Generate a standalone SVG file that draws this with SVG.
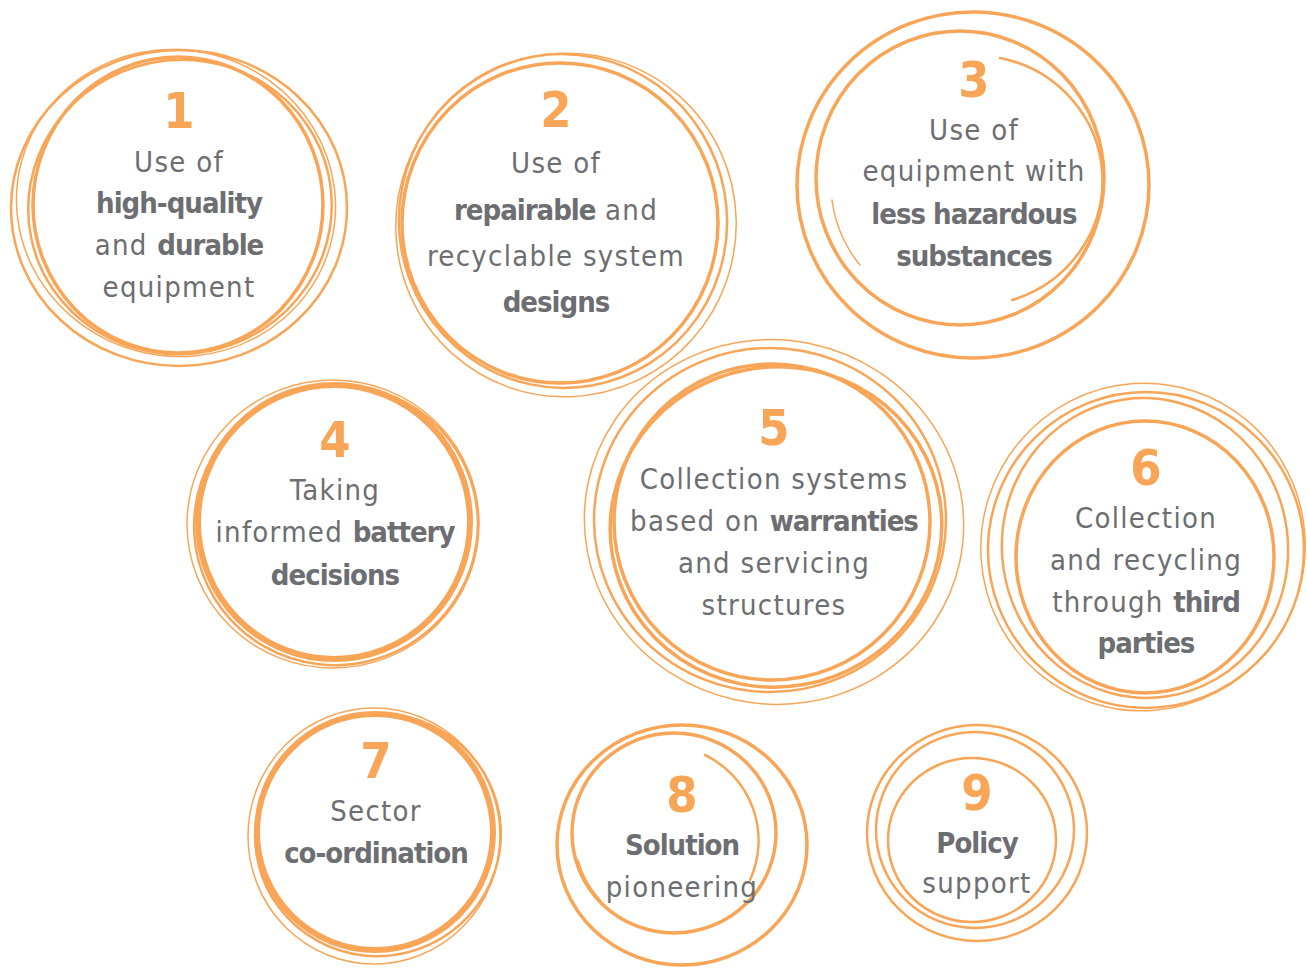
<svg xmlns="http://www.w3.org/2000/svg" width="1307" height="972" viewBox="0 0 1307 972">
<style>
.r{fill:none;stroke:#F8A557;stroke-linecap:round}
.w1{stroke-width:1.5}.w2{stroke-width:2.5}.w3{stroke-width:3.5}.w5{stroke-width:6}
text{font-family:"DejaVu Sans Condensed","DejaVu Sans",sans-serif;fill:#6D6E71;text-anchor:middle;font-size:29px;letter-spacing:1.3px}
.n{fill:#F8A557;font-size:50px;font-weight:bold;letter-spacing:0}
.b{font-weight:bold;letter-spacing:-1px}
</style>
<rect width="1307" height="972" fill="#fff"/>
<g id="node1">
<ellipse class="r w3" cx="178" cy="205" rx="145" ry="148"/>
<ellipse class="r w2" cx="180" cy="207" rx="152" ry="147" transform="rotate(-12 180 207)"/>
<ellipse class="r w2" cx="179" cy="208" rx="168" ry="158"/>
<ellipse class="r w1" cx="176" cy="203" rx="160" ry="153" transform="rotate(15 176 203)"/>
<text class="n" x="179" y="128">1</text>
<text x="179" y="172">Use of</text>
<text x="179" y="213" class="b">high-quality</text>
<text x="179" y="255">and <tspan class="b">durable</tspan></text>
<text x="179" y="297">equipment</text>
</g>
<g id="node2">
<ellipse class="r w3" cx="560" cy="223" rx="158" ry="160"/>
<ellipse class="r w2" cx="563" cy="221" rx="164" ry="167" transform="rotate(-10 563 221)"/>
<ellipse class="r w1" cx="566" cy="225" rx="170" ry="172" transform="rotate(20 566 225)"/>
<text class="n" x="556" y="127">2</text>
<text x="556" y="173">Use of</text>
<text x="556" y="220"><tspan class="b">repairable</tspan> and</text>
<text x="556" y="266">recyclable system</text>
<text x="556" y="312" class="b">designs</text>
</g>
<g id="node3">
<ellipse class="r w3" cx="960" cy="178" rx="144" ry="147"/>
<ellipse class="r w3" cx="973" cy="185" rx="176" ry="173"/>
<path class="r w2" d="M1000 58 A128 125 0 0 1 1012 300"/>
<path class="r w1" d="M832 200 A125 128 0 0 0 860 265"/>
<text class="n" x="974" y="97">3</text>
<text x="974" y="140">Use of</text>
<text x="974" y="181">equipment with</text>
<text x="974" y="224" class="b">less hazardous</text>
<text x="974" y="266" class="b">substances</text>
</g>
<g id="node4">
<ellipse class="r w5" cx="334" cy="522" rx="136" ry="137"/>
<ellipse class="r w2" cx="336" cy="525" rx="142" ry="140" transform="rotate(-15 336 525)"/>
<ellipse class="r w1" cx="333" cy="524" rx="146" ry="144"/>
<text class="n" x="335" y="457">4</text>
<text x="335" y="500">Taking</text>
<text x="335" y="542">informed <tspan class="b">battery</tspan></text>
<text x="335" y="585" class="b">decisions</text>
</g>
<g id="node5">
<ellipse class="r w3" cx="772" cy="522" rx="158" ry="158"/>
<ellipse class="r w3" cx="776" cy="527" rx="166" ry="160" transform="rotate(-10 776 527)"/>
<ellipse class="r w2" cx="770" cy="520" rx="176" ry="172"/>
<ellipse class="r w1" cx="774" cy="522" rx="190" ry="182" transform="rotate(12 774 522)"/>
<text class="n" x="774" y="445">5</text>
<text x="774" y="489">Collection systems</text>
<text x="774" y="531">based on <tspan class="b">warranties</tspan></text>
<text x="774" y="573">and servicing</text>
<text x="774" y="615">structures</text>
</g>
<g id="node6">
<ellipse class="r w3" cx="1145" cy="557" rx="129" ry="136"/>
<ellipse class="r w2" cx="1145" cy="548" rx="143" ry="150" transform="rotate(-8 1145 548)"/>
<ellipse class="r w2" cx="1146" cy="550" rx="158" ry="158"/>
<ellipse class="r w1" cx="1143" cy="547" rx="162" ry="164" transform="rotate(18 1143 547)"/>
<text class="n" x="1146" y="485">6</text>
<text x="1146" y="528">Collection</text>
<text x="1146" y="570">and recycling</text>
<text x="1146" y="612">through <tspan class="b">third</tspan></text>
<text x="1146" y="653" class="b">parties</text>
</g>
<g id="node7">
<ellipse class="r w5" cx="375" cy="832" rx="118" ry="118"/>
<ellipse class="r w2" cx="378" cy="835" rx="123" ry="121" transform="rotate(-15 378 835)"/>
<ellipse class="r w1" cx="374" cy="836" rx="126" ry="128"/>
<text class="n" x="376" y="778">7</text>
<text x="376" y="821">Sector</text>
<text x="376" y="863" class="b">co-ordination</text>
</g>
<g id="node8">
<ellipse class="r w3" cx="682" cy="845" rx="125" ry="120"/>
<ellipse class="r w3" cx="674" cy="833" rx="102" ry="100"/>
<path class="r w2" d="M705 755 A95 95 0 0 1 750 880"/>
<path class="r w1" d="M578 860 A100 100 0 0 0 600 900"/>
<text class="n" x="682" y="812">8</text>
<text x="682" y="855" class="b">Solution</text>
<text x="682" y="897">pioneering</text>
</g>
<g id="node9">
<ellipse class="r w2" cx="977" cy="833" rx="110" ry="108"/>
<ellipse class="r w2" cx="975" cy="830" rx="99" ry="98"/>
<ellipse class="r w2" cx="972" cy="840" rx="84" ry="82"/>
<text class="n" x="977" y="810">9</text>
<text x="977" y="853" class="b">Policy</text>
<text x="977" y="893">support</text>
</g>
<g id="connectors"/>
</svg>
